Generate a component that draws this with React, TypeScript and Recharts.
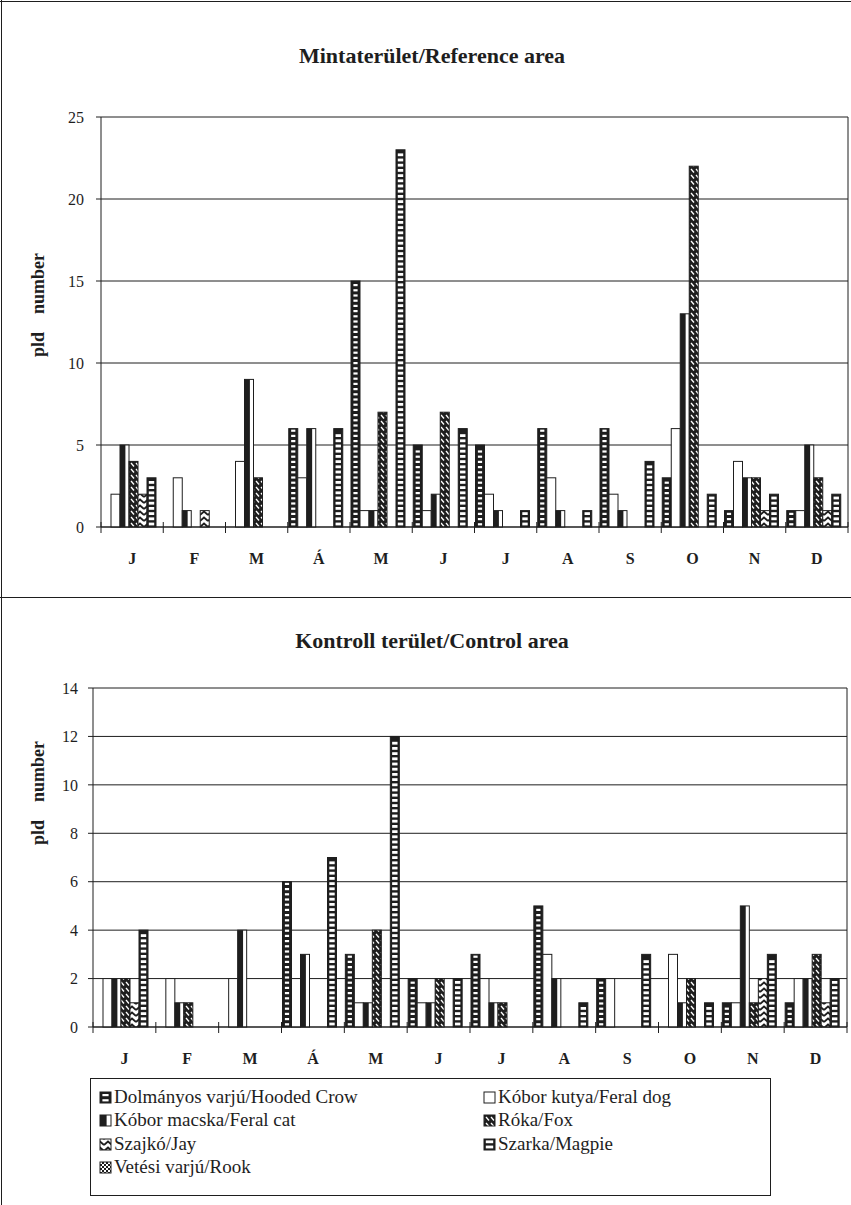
import React from "react";
import { BarChart, Bar, XAxis, YAxis, CartesianGrid } from "recharts";

const FONT = "Liberation Serif, DejaVu Serif, Times New Roman, serif";
const INK = "#1e1e1e";

const months = ["J", "F", "M", "Á", "M", "J", "J", "A", "S", "O", "N", "D"];

// Mintaterület / Reference area
const refHoodedCrow = [0, 0, 0, 6, 15, 5, 5, 6, 6, 3, 1, 1];
const refFeralDog = [2, 3, 4, 3, 1, 1, 2, 3, 2, 6, 4, 1];
const refFeralCat = [5, 1, 9, 6, 1, 2, 1, 1, 1, 13, 3, 5];
const refFox = [4, 0, 3, 0, 7, 7, 0, 0, 0, 22, 3, 3];
const refJay = [2, 1, 0, 0, 0, 0, 0, 0, 0, 0, 1, 1];
const refMagpie = [3, 0, 0, 6, 23, 6, 1, 1, 4, 2, 2, 2];
const refRook = [0, 0, 0, 0, 0, 0, 0, 0, 0, 0, 0, 0];

// Kontroll terület / Control area
const ctlHoodedCrow = [0, 0, 0, 6, 3, 2, 3, 5, 2, 0, 1, 1];
const ctlFeralDog = [2, 2, 2, 2, 1, 1, 2, 3, 2, 3, 1, 2];
const ctlFeralCat = [2, 1, 4, 3, 1, 1, 1, 2, 0, 1, 5, 2];
const ctlFox = [2, 1, 0, 0, 4, 2, 1, 0, 0, 2, 1, 3];
const ctlJay = [1, 0, 0, 0, 0, 0, 0, 0, 0, 0, 2, 1];
const ctlMagpie = [4, 0, 0, 7, 12, 2, 0, 1, 3, 1, 3, 2];
const ctlRook = [0, 0, 0, 0, 0, 0, 0, 0, 0, 0, 0, 0];

const refTicks = [0, 5, 10, 15, 20, 25];
const ctlTicks = [0, 2, 4, 6, 8, 10, 12, 14];

type Kind = "hc" | "dog" | "cat" | "fox" | "jay" | "magpie" | "rook";
const seriesKeys: Kind[] = ["hc", "dog", "cat", "fox", "jay", "magpie", "rook"];
const seriesNames = [
  "Dolmányos varjú/Hooded Crow",
  "Kóbor kutya/Feral dog",
  "Kóbor macska/Feral cat",
  "Róka/Fox",
  "Szajkó/Jay",
  "Szarka/Magpie",
  "Vetési varjú/Rook",
];

function rows(cols: number[][]) {
  return months.map((m, i) => {
    const r: any = { month: m };
    seriesKeys.forEach((k, j) => (r[k] = cols[j][i]));
    return r;
  });
}

const refData = rows([refHoodedCrow, refFeralDog, refFeralCat, refFox, refJay, refMagpie, refRook]);
const ctlData = rows([ctlHoodedCrow, ctlFeralDog, ctlFeralCat, ctlFox, ctlJay, ctlMagpie, ctlRook]);

function Swatch({ kind, x, y, width, height }: any) {
  if (!height || height <= 0 || !width) return <g />;
  const parts: React.ReactNode[] = [];
  if (kind === "hc" || kind === "magpie") {
    parts.push(<rect key="bg" x={x} y={y} width={width} height={height} fill={INK} />);
    const inset = kind === "hc" ? 2.4 : 1.8;
    const th = kind === "hc" ? 2.2 : 2.8;
    let n = 0;
    for (let yy = y + height - 1.6 - th; yy >= y + 1; yy -= 5.2) {
      parts.push(<rect key={n++} x={x + inset} y={yy} width={Math.max(width - inset * 2, 1)} height={th} fill="#fff" />);
    }
  } else if (kind === "cat") {
    parts.push(<rect key="w" x={x} y={y} width={width} height={height} fill="#fff" />);
    parts.push(<rect key="d" x={x} y={y} width={width * 0.6} height={height} fill={INK} />);
  } else if (kind === "dog") {
    parts.push(<rect key="w" x={x} y={y} width={width} height={height} fill="#fff" />);
  } else {
    const id = kind === "fox" ? "pFox" : kind === "jay" ? "pJay" : "pRook";
    parts.push(<rect key="p" x={x} y={y} width={width} height={height} fill={`url(#${id})`} />);
  }
  parts.push(<rect key="o" x={x} y={y} width={width} height={height} fill="none" stroke={INK} strokeWidth={1} />);
  return <g>{parts}</g>;
}

function MonthTick(props: any) {
  const { x, y, payload, index } = props;
  const half = payload?.offset ?? 31;
  return (
    <g>
      <line x1={x - half} x2={x - half} y1={y - 5} y2={y + 6} stroke={INK} />
      {index === months.length - 1 && <line x1={x + half} x2={x + half} y1={y - 5} y2={y + 6} stroke={INK} />}
      <text x={x} y={y + 37} textAnchor="middle" fontFamily={FONT} fontWeight="bold" fontSize={16} fill={INK}>
        {payload.value}
      </text>
    </g>
  );
}

function Panel({ data, max, ticks, height, top, yWidth, frameWidth, labelMargin }: any) {
  return (
    <BarChart
      width={851}
      height={height}
      data={data}
      margin={{ top, right: 0, bottom: 8, left: 0 }}
      barCategoryGap={1}
      barGap={0}
    >
      <CartesianGrid vertical={false} stroke={INK} strokeWidth={1} />
      <XAxis
        dataKey="month"
        interval={0}
        height={40}
        tick={<MonthTick />}
        tickLine={false}
        tickSize={0}
        tickMargin={0}
        axisLine={{ stroke: INK }}
      />
      <YAxis
        domain={[0, max]}
        ticks={ticks}
        interval={0}
        width={yWidth}
        tickSize={5}
        tickMargin={labelMargin}
        tick={{ fontFamily: FONT, fontSize: 16, fill: INK }}
        axisLine={{ stroke: INK }}
        tickLine={{ stroke: INK }}
      />
      <YAxis
        yAxisId="frame"
        orientation="right"
        domain={[0, max]}
        ticks={ticks}
        width={frameWidth}
        tick={false}
        tickLine={false}
        axisLine={{ stroke: INK }}
      />
      {seriesKeys.map((k, i) => (
        <Bar
          key={k}
          dataKey={k}
          name={seriesNames[i]}
          isAnimationActive={false}
          shape={(p: any) => <Swatch kind={k} {...p} />}
        />
      ))}
    </BarChart>
  );
}

function YLabel({ cx, cy }: { cx: number; cy: number }) {
  return (
    <text
      x={cx}
      y={cy}
      transform={`rotate(-90 ${cx} ${cy})`}
      textAnchor="middle"
      dominantBaseline="central"
      fontFamily={FONT}
      fontWeight="bold"
      fontSize={18}
      fill={INK}
      style={{ whiteSpace: "pre" }}
    >
      {"pld    number"}
    </text>
  );
}

function Legend() {
  const cols = [100, 484];
  const rowsY = [1098, 1121, 1145, 1168];
  return (
    <g>
      <rect x={90.5} y={1078.5} width={680} height={117} fill="#fff" stroke={INK} />
      {seriesKeys.map((k, i) => {
        const cx = cols[i % 2];
        const cy = rowsY[Math.floor(i / 2)];
        return (
          <g key={k}>
            <Swatch kind={k} x={cx} y={cy - 6} width={11} height={11} />
            <text x={cx + 14} y={cy + 5} fontFamily={FONT} fontSize={19} fill={INK}>
              {seriesNames[i]}
            </text>
          </g>
        );
      })}
    </g>
  );
}

export default function App() {
  return (
    <div style={{ position: "absolute", left: 0, top: 0, width: 851, height: 1205, background: "#fff", fontFamily: FONT }}>
      <svg width={851} height={1205} style={{ position: "absolute", left: 0, top: 0 }}>
        <defs>
          <pattern id="pFox" width="5" height="6" patternUnits="userSpaceOnUse">
            <rect width="5" height="6" fill={INK} />
            <line x1="1" y1="1" x2="4" y2="4.5" stroke="#fff" strokeWidth="1.3" />
          </pattern>
          <pattern id="pJay" width="8" height="6" patternUnits="userSpaceOnUse">
            <rect width="8" height="6" fill="#fff" />
            <polyline points="0,5 4,1.5 8,5" fill="none" stroke={INK} strokeWidth="1.7" />
          </pattern>
          <pattern id="pRook" width="4" height="4" patternUnits="userSpaceOnUse">
            <rect width="4" height="4" fill="#fff" />
            <rect width="2" height="2" fill={INK} />
            <rect x="2" y="2" width="2" height="2" fill={INK} />
          </pattern>
        </defs>
        <line x1={0} y1={1.5} x2={851} y2={1.5} stroke={INK} />
        <line x1={1.5} y1={0} x2={1.5} y2={1205} stroke={INK} />
        <line x1={0} y1={597.5} x2={851} y2={597.5} stroke={INK} />
        <text x={432} y={63} textAnchor="middle" fontFamily={FONT} fontWeight="bold" fontSize={22} fill={INK}>
          Mintaterület/Reference area
        </text>
        <text x={432} y={648} textAnchor="middle" fontFamily={FONT} fontWeight="bold" fontSize={22} fill={INK}>
          Kontroll terület/Control area
        </text>
        <YLabel cx={38} cy={305} />
        <YLabel cx={38} cy={793} />
        <Legend />
      </svg>
      <div style={{ position: "absolute", left: 0, top: 0 }}>
        <Panel data={refData} max={25} ticks={refTicks} height={575} top={117} yWidth={101} frameWidth={3} labelMargin={12} />
      </div>
      <div style={{ position: "absolute", left: 0, top: 597 }}>
        <Panel data={ctlData} max={14} ticks={ctlTicks} height={478} top={91} yWidth={93} frameWidth={4} labelMargin={10} />
      </div>
    </div>
  );
}
